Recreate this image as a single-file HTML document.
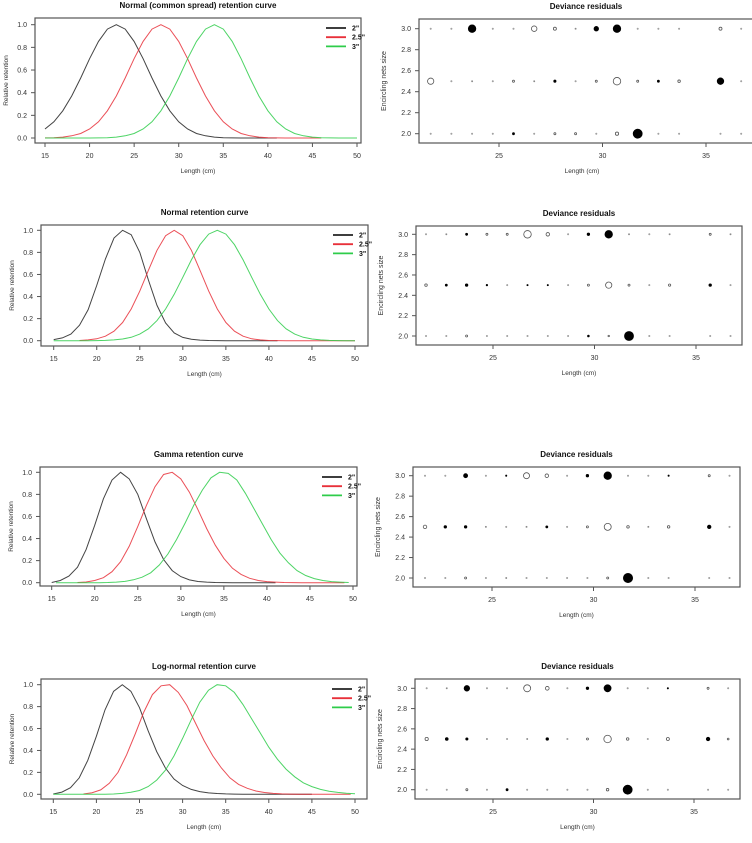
<!DOCTYPE html>
<html><head><meta charset="utf-8"><style>
body{margin:0;background:#fff;}
svg{display:block;font-family:"Liberation Sans",Arial,sans-serif;}
</style></head><body>
<svg id="c" width="752" height="843" viewBox="0 0 752 843"></svg>
<script>
// ---------- data ----------
const curveTitles = ["Normal (common spread) retention curve","Normal retention curve","Gamma retention curve","Log-normal retention curve"];
const seriesNames = ['2"','2.5"','3"'];
const curveXTicks = [15,20,25,30,35,40,45,50];
const curveYTicks = [0,0.2,0.4,0.6,0.8,1.0];
const resXTicks = [25,30,35];
const resYTicks = [2.0,2.2,2.4,2.6,2.8,3.0];
const resLengths = [21.7,22.7,23.7,24.7,25.7,26.7,27.7,28.7,29.7,30.7,31.7,32.7,33.7,35.7,36.7];
const meshSizes = [3.0,2.5,2.0];

// panel 1 curves
const p1BlackStart = 15, p1RedStart = 15, p1GreenStart = 15;
const p1Black = [.079,.143,.240,.371,.530,.700,.853,.961,1,.961,.853,.700,.530,.371,.240,.143,.079,.040,.019,.008,.003,.001,0,0,0,0,0];
const p1Red = [.001,.003,.008,.019,.040,.079,.143,.240,.371,.530,.700,.853,.961,1,.961,.853,.700,.530,.371,.240,.143,.079,.040,.019,.008,.003,.001,0,0,0,0,0];
const p1Green = [0,0,0,0,0,0,.001,.003,.008,.019,.040,.079,.143,.240,.371,.530,.700,.853,.961,1,.961,.853,.700,.530,.371,.240,.143,.079,.040,.019,.008,.003,.001,0,0,0];
// panel 2
const p2BlackStart = 15, p2RedStart = 18, p2GreenStart = 15;
const p2Black = [.01,.025,.06,.14,.28,.50,.74,.93,1,.96,.80,.55,.32,.16,.07,.03,.013,.005,.002,.001,0,0,0,0,0,0,0];
const p2Red = [.002,.007,.017,.041,.086,.165,.287,.449,.638,.819,.951,1,.951,.819,.638,.449,.287,.165,.086,.041,.017,.007,.002,.001,0,0,0,0,0,0,0,0,0];
const p2Green = [0,0,0,0,0,.001,.003,.007,.015,.031,.060,.108,.182,.287,.420,.574,.732,.870,.966,1,.966,.870,.732,.574,.420,.287,.182,.108,.060,.031,.015,.007,.003,.001,0,0];
// panel 3
const p3BlackStart = 15, p3RedStart = 18, p3GreenStart = 15.5;
const p3Black = [.002,.02,.06,.14,.30,.52,.76,.93,1,.94,.80,.58,.37,.21,.11,.055,.025,.011,.005,.002,.001,0,0,0,0,0,0];
const p3Red = [.002,.006,.02,.045,.10,.19,.33,.51,.70,.87,.98,1,.94,.82,.66,.49,.34,.22,.13,.075,.04,.02,.01,.005,.002,.001,0,0,0,0,0,0];
const p3Green = [0,0,0,0,0,0,.002,.005,.012,.026,.05,.09,.16,.26,.39,.54,.70,.84,.95,1,.99,.93,.81,.67,.53,.39,.27,.18,.11,.065,.037,.02,.01,.005,.002];
// panel 4
const p4BlackStart = 15, p4RedStart = 18.5, p4GreenStart = 15;
const p4Black = [.003,.02,.06,.15,.31,.53,.77,.94,1,.94,.79,.58,.39,.24,.14,.08,.045,.025,.013,.007,.004,.002,.001,.001,0,0,0,0,0,0,0];
const p4Red = [.003,.015,.04,.10,.20,.36,.55,.75,.91,.99,1,.93,.81,.65,.49,.35,.24,.15,.09,.055,.03,.016,.008,.004,.002,.001,0,0,0,0,0,0];
const p4Green = [0,0,0,0,0,0,.001,.003,.008,.018,.035,.07,.13,.22,.35,.51,.68,.84,.95,1,.99,.93,.82,.69,.56,.43,.32,.23,.16,.105,.07,.045,.028,.017,.01,.005];

// residuals (negative = filled, positive = open)
const r1Row30 = [.3,.3,-3,.3,.3,2.2,1.2,-.4,-1.8,-3,.3,.3,.3,1.2,.3];
const r1Row25 = [2.5,.3,-.4,.3,.8,-.3,-.9,.3,.8,3,.8,-.8,1,-2.6,.3];
const r1Row20 = [.3,.2,.3,.3,-.8,.3,.8,.8,.3,1.3,-3.6,.2,.3,.2,.2];
const r2Row30 = [.3,-.4,-.8,.8,.8,3,1.4,.2,-1,-3,-.4,.2,-.4,.8,-.3];
const r2Row25 = [1,-.8,-1,-.6,.2,-.5,-.5,.2,.8,2.5,.8,.3,.9,-1,.3];
const r2Row20 = [.3,.2,.8,.2,.3,.3,.2,.2,-.7,.6,-3.6,.2,.2,.2,.2];
const r3Row30 = [.3,.3,-1.6,.2,-.5,2.4,1.4,.2,-1,-3,.2,.2,-.5,.8,.3];
const r3Row25 = [1.4,-1,-1,-.3,.2,-.3,-.8,.2,.8,2.8,1,-.3,1,-1.4,.4];
const r3Row20 = [.3,.2,.8,.2,-.4,.2,.2,.2,.3,.8,-3.7,.2,.2,.2,.2];
const r4Row30 = [.2,-.3,-2.2,.2,.2,2.8,1.5,.2,-1,-2.8,.2,.2,-.5,.8,.3];
const r4Row25 = [1.3,-1.1,-.9,-.3,.4,-.3,-1,.2,.8,3,1,.3,1.2,-1.4,.7];
const r4Row20 = [.2,.2,.8,.2,-.8,.3,.2,.2,.3,1,-3.6,.2,.2,.2,.2];

// ---------- layout ----------
const curveLayouts = [
 {L:35,R:361,T:18,B:143,x0:45,x1:357,y1:24.7,y0:138},
 {L:41,R:368,T:225,B:346,x0:53.7,x1:355,y1:230.3,y0:340.7},
 {L:40,R:357,T:467,B:586,x0:51.7,x1:353,y1:472.3,y0:582.7},
 {L:41,R:367,T:679,B:799,x0:53.3,x1:355,y1:684.7,y0:794.3}
];
const resLayouts = [
 {L:419,R:760,T:19,B:143,x25:499,x35:706,y3:28.7,y2:133.7},
 {L:416,R:742,T:226,B:345,x25:493,x35:696,y3:234.3,y2:336},
 {L:413,R:740,T:467,B:587,x25:492,x35:695,y3:475.7,y2:578},
 {L:415,R:740,T:679,B:799,x25:493,x35:694,y3:688.3,y2:789.7}
];
const curveSets = [
 [[p1BlackStart,p1Black],[p1RedStart,p1Red],[p1GreenStart,p1Green]],
 [[p2BlackStart,p2Black],[p2RedStart,p2Red],[p2GreenStart,p2Green]],
 [[p3BlackStart,p3Black],[p3RedStart,p3Red],[p3GreenStart,p3Green]],
 [[p4BlackStart,p4Black],[p4RedStart,p4Red],[p4GreenStart,p4Green]]
];
const resSets = [[r1Row30,r1Row25,r1Row20],[r2Row30,r2Row25,r2Row20],[r3Row30,r3Row25,r3Row20],[r4Row30,r4Row25,r4Row20]];
const colors = ["#222","#e8303a","#2ecc4a"];
const NS="http://www.w3.org/2000/svg";
const svg=document.getElementById('c');
function mk(tag,attrs,parent,text){const e=document.createElementNS(NS,tag);for(const k in attrs)e.setAttribute(k,attrs[k]);if(text!==undefined)e.textContent=text;(parent||svg).appendChild(e);return e;}

curveLayouts.forEach((g,pi)=>{
  const grp=mk('g',{});
  
  
  const sx=v=>g.x0+(v-15)*(g.x1-g.x0)/35;
  const sy=v=>g.y0+(g.y1-g.y0)*v;
  const t=mk('text',{x:(g.L+g.R)/2,y:g.T-10,'text-anchor':'middle','font-size':'8','font-weight':'bold',fill:'#111'},grp,curveTitles[pi]);
  
  
  curveSets[pi].forEach((s,si)=>{
    const pts=s[1].map((v,i)=>sx(s[0]+i).toFixed(1)+','+sy(v).toFixed(1)).join(' ');
    const pl=mk('polyline',{points:pts,fill:'none',stroke:colors[si],'stroke-width':'1','stroke-opacity':'0.85'},grp);
    
    
  });
  const box=mk('rect',{x:g.L,y:g.T,width:g.R-g.L,height:g.B-g.T,fill:'none',stroke:'#555','stroke-width':'1.2'},grp);
  
  
  curveXTicks.forEach(v=>{
    mk('line',{x1:sx(v),x2:sx(v),y1:g.B,y2:g.B+4,stroke:'#555'},grp);
    const l=mk('text',{x:sx(v),y:g.B+15,'text-anchor':'middle','font-size':'7',fill:'#333'},grp,v);
    
    
  });
  curveYTicks.forEach(v=>{
    mk('line',{x1:g.L-4,x2:g.L,y1:sy(v),y2:sy(v),stroke:'#555'},grp);
    const l=mk('text',{x:g.L-8,y:sy(v)+2.5,'text-anchor':'end','font-size':'7',fill:'#333'},grp,v.toFixed(1));
    
    
  });
  const xt=mk('text',{x:(g.L+g.R)/2,y:g.B+30,'text-anchor':'middle','font-size':'6.5',fill:'#333'},grp,'Length (cm)');
  
  
  const cy=(g.T+g.B)/2, cx=g.L-27;
  const yt=mk('text',{x:cx,y:cy,'text-anchor':'middle','font-size':'6.5',fill:'#333',transform:`rotate(-90 ${cx} ${cy})`},grp,'Relative retention');
  
  
  seriesNames.forEach((n,si)=>{
    const ly=g.T+10+si*9.2;
    const lg=mk('g',{},grp);
    
    
    mk('line',{x1:g.R-35,x2:g.R-15,y1:ly,y2:ly,stroke:colors[si],'stroke-width':'1.8'},lg);
    mk('text',{x:g.R-9,y:ly+2.5,'font-size':'7','font-weight':'bold',fill:'#111'},lg,n);
  });
});

resLayouts.forEach((g,pi)=>{
  const grp=mk('g',{});
  
  
  const sx=v=>g.x25+(v-25)*(g.x35-g.x25)/10;
  const sy=v=>g.y2+(v-2)*(g.y3-g.y2);
  const titleX = pi===0 ? 586 : (g.L+g.R)/2;
  const t=mk('text',{x:titleX,y:g.T-10,'text-anchor':'middle','font-size':'8','font-weight':'bold',fill:'#111'},grp,'Deviance residuals');
  
  
  const box=mk('rect',{x:g.L,y:g.T,width:g.R-g.L,height:g.B-g.T,fill:'none',stroke:'#555','stroke-width':'1.2'},grp);
  
  
  resSets[pi].forEach((row,ri)=>{
    row.forEach((r,i)=>{
      const a=Math.abs(r);
      const rad=Math.max(0.6,1.25*a);
      const neg=r<0;
      const c=mk('circle',{cx:sx(resLengths[i]),cy:sy(meshSizes[ri]),r:rad,
        fill:neg?'#000':'none',stroke:a<0.5?'#999':(neg?'#000':'#555'),'stroke-width':'0.8'},grp);
      
      
    });
  });
  resXTicks.forEach(v=>{
    mk('line',{x1:sx(v),x2:sx(v),y1:g.B,y2:g.B+4,stroke:'#555'},grp);
    const l=mk('text',{x:sx(v),y:g.B+15,'text-anchor':'middle','font-size':'7',fill:'#333'},grp,v);
    
    
  });
  resYTicks.forEach(v=>{
    mk('line',{x1:g.L-4,x2:g.L,y1:sy(v),y2:sy(v),stroke:'#555'},grp);
    const l=mk('text',{x:g.L-8,y:sy(v)+2.5,'text-anchor':'end','font-size':'7',fill:'#333'},grp,v.toFixed(1));
    
    
  });
  const xt=mk('text',{x:(g.L+Math.min(g.R,745))/2,y:g.B+30,'text-anchor':'middle','font-size':'6.5',fill:'#333'},grp,'Length (cm)');
  
  
  const cy=(g.T+g.B)/2, cx=g.L-33;
  const yt=mk('text',{x:cx,y:cy,'text-anchor':'middle','font-size':'7',fill:'#333',transform:`rotate(-90 ${cx} ${cy})`},grp,'Encircling nets size');
  
  
});
</script>
</body></html>
